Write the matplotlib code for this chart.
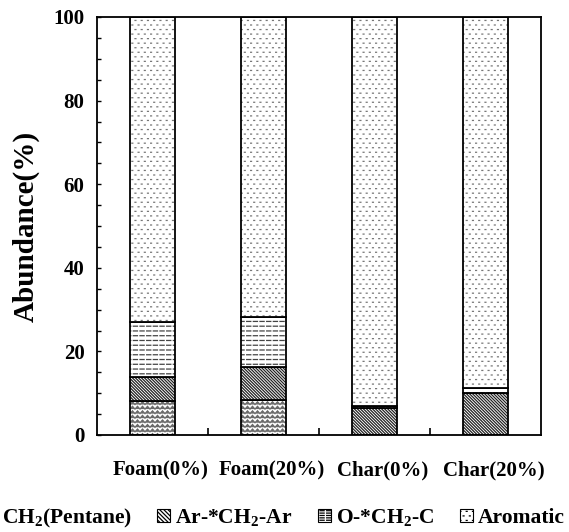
import warnings
import numpy as np
import matplotlib
matplotlib.use("Agg")
import matplotlib.pyplot as plt
import matplotlib.transforms as mtransforms
from matplotlib import hatch as mhatch
from matplotlib.path import Path
from matplotlib.patches import Patch

warnings.filterwarnings("ignore")

# ---- data -------------------------------------------------------------
categories = ["Foam(0%)", "Foam(20%)", "Char(0%)", "Char(20%)"]
pentane = [8.2, 8.3, 0.0, 0.0]
ar_ch2_ar = [5.6, 7.9, 6.4, 10.1]
o_ch2_c = [13.2, 12.1, 0.5, 1.2]
aromatic = [73.0, 71.7, 93.1, 88.7]
series_labels = ["CH$_\\mathregular{2}$(Pentane)", "Ar-*CH$_\\mathregular{2}$-Ar",
                 "O-*CH$_\\mathregular{2}$-C", "Aromatic"]
y_ticks = [0, 20, 40, 60, 80, 100]


# ---- custom fill textures ----------------------------------------------
class ZigZagHatch(mhatch.HatchPatternBase):
    """Rows of small zigzags ('z')."""
    def __init__(self, hatch, density):
        self.rows = 22 * hatch.count("z")
        self.periods = 20
        self.n = 2 * self.periods + 1
        self.num_vertices = self.rows * self.n

    def set_vertices_and_codes(self, vertices, codes):
        xs = np.linspace(0, 1, self.n)
        amp = np.where(np.arange(self.n) % 2 == 0, 0.0, 0.028)
        k = 0
        for r in range(self.rows):
            vertices[k:k + self.n, 0] = xs
            vertices[k:k + self.n, 1] = r / self.rows + amp
            codes[k] = Path.MOVETO
            codes[k + 1:k + self.n] = Path.LINETO
            k += self.n


class DashHatch(mhatch.HatchPatternBase):
    """Rows of short horizontal dashes ('d')."""
    def __init__(self, hatch, density):
        self.rows = 21 * hatch.count("d")
        self.dashes = 15
        self.num_vertices = self.rows * self.dashes * 2

    def set_vertices_and_codes(self, vertices, codes):
        k = 0
        step = 1.0 / self.dashes
        for r in range(self.rows):
            y = (r + 0.5) / self.rows
            for c in range(self.dashes):
                vertices[k] = (c * step, y)
                vertices[k + 1] = (c * step + step * 0.62, y)
                codes[k] = Path.MOVETO
                codes[k + 1] = Path.LINETO
                k += 2


class DotHatch(mhatch.HatchPatternBase):
    """Staggered grid of fine dots ('p')."""
    def __init__(self, hatch, density):
        self.rows = 22 * hatch.count("p")
        self.cols = 16
        self.num_vertices = self.rows * self.cols * 2

    def set_vertices_and_codes(self, vertices, codes):
        k = 0
        dx = 1.0 / self.cols
        for r in range(self.rows):
            y = (r + 0.5) / self.rows
            off = 0.5 * dx if r % 2 else 0.0
            for c in range(self.cols):
                x = c * dx + off + 0.1 * dx
                vertices[k] = (x, y)
                vertices[k + 1] = (x + 0.009, y)
                codes[k] = Path.MOVETO
                codes[k + 1] = Path.LINETO
                k += 2


mhatch._hatch_types.extend([ZigZagHatch, DashHatch, DotHatch])

# ---- style -------------------------------------------------------------
plt.rcParams["font.family"] = ["Liberation Serif", "DejaVu Serif"]
plt.rcParams["font.weight"] = "bold"
plt.rcParams["mathtext.default"] = "regular"
plt.rcParams["hatch.linewidth"] = 0.9

hatches = ["z", "\\" * 11, "d", "p"]
legend_hatches = ["z", "\\" * 8, "dd", "p"]
hatch_colors = ["#6a6a6a", "#222222", "#444444", "#777777"]
series = [pentane, ar_ch2_ar, o_ch2_c, aromatic]

fig = plt.figure(figsize=(5.69, 5.32), dpi=100)
ax = fig.add_axes([97 / 569, 1 - 435 / 532, 444 / 569, 418 / 532])

x = np.arange(len(categories))
width = 0.4
bottom = np.zeros(len(categories))
for vals, h, hc in zip(series, hatches, hatch_colors):
    vals = np.asarray(vals)
    ax.bar(x, vals, width, bottom=bottom, color="white", edgecolor=hc,
           hatch=h, linewidth=0)
    ax.bar(x, vals, width, bottom=bottom, fill=False, edgecolor="black",
           linewidth=1.3)
    bottom = bottom + vals

ax.set_xlim(-0.5, len(categories) - 0.5)
ax.set_ylim(0, 100)
ax.set_yticks(y_ticks)
ax.set_yticks(np.arange(0, 101, 5), minor=True)
ax.set_xticks(x)
ax.set_xticklabels(categories, fontsize=15, fontweight="bold")
ax.set_xticks(np.arange(0.5, len(categories) - 0.5, 1.0), minor=True)
ax.tick_params(axis="x", which="major", length=0, pad=18)
ax.tick_params(axis="x", which="minor", direction="in", length=5, width=1.2)
ax.tick_params(axis="y", which="both", direction="in", length=3, width=1.0,
               pad=9, labelsize=15)
for lab in ax.get_yticklabels():
    lab.set_fontweight("bold")
# category labels sit slightly right of the bar centres
shift = mtransforms.ScaledTranslation(8 / 100, 0, fig.dpi_scale_trans)
for lab in ax.get_xticklabels():
    lab.set_transform(lab.get_transform() + shift)
for s in ax.spines.values():
    s.set_linewidth(1.3)

ax.set_ylabel("Abundance(%)", fontsize=21, fontweight="bold", labelpad=10)

handles = [Patch(facecolor="white", edgecolor="black", hatch=h, linewidth=0.8)
           for h in legend_hatches]
fig.legend(handles, series_labels, loc="center left",
           bbox_to_anchor=(-16 / 569, 14 / 532), ncol=4, frameon=False,
           prop={"size": 15.5, "weight": "bold"}, handlelength=0.6,
           handleheight=0.6, handletextpad=0.22, columnspacing=1.2,
           borderaxespad=0, borderpad=0)

fig.savefig("out.png", dpi=100)
